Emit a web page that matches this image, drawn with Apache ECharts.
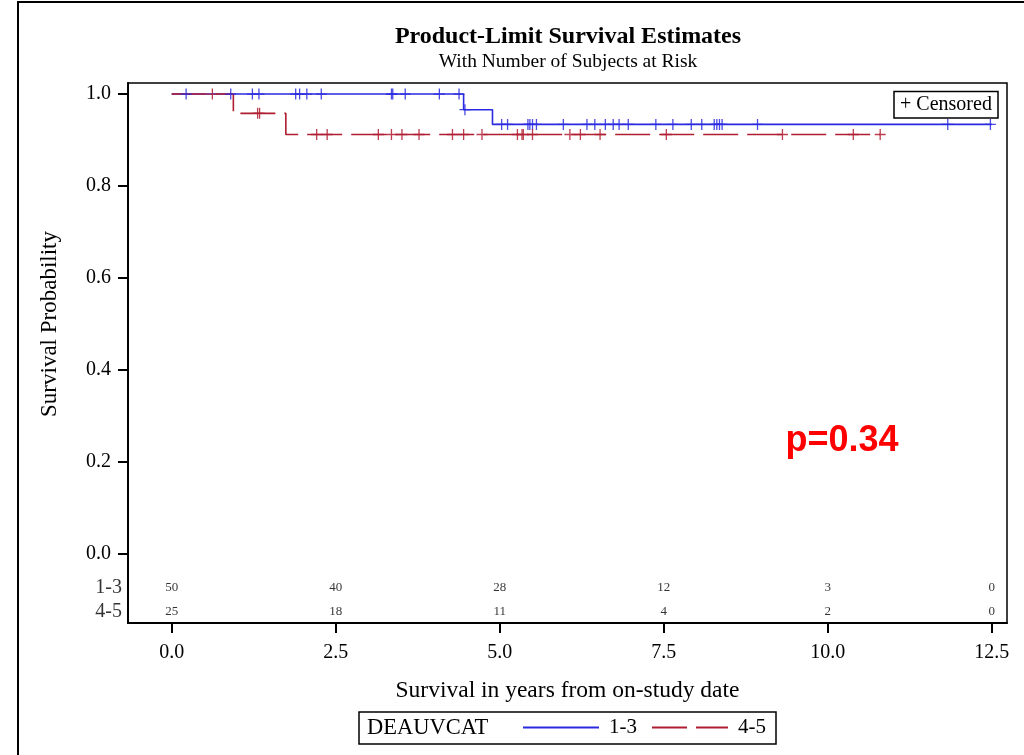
<!DOCTYPE html>
<html>
<head>
<meta charset="utf-8">
<script src="https://cdn.jsdelivr.net/npm/echarts@6/dist/echarts.min.js"></script>
<style>html,body{margin:0;padding:0;background:#fff}#c{width:1024px;height:755px}</style>
</head>
<body>
<div id="c"></div>
<script>
// ---- data ----
const groups = ['1-3', '4-5'];
const timeTicks = [0, 2.5, 5, 7.5, 10, 12.5];
const probTicks = [0, 0.2, 0.4, 0.6, 0.8, 1.0];
// step points (time, survival) for each group
const times13 = [0, 4.45, 4.89, 12.5];
const surv13 = [1, 0.966, 0.934, 0.934];
const times45 = [0, 0.94, 1.74, 10.80];
const surv45 = [1, 0.958, 0.912, 0.912];
// censored times
const censor13 = [0.22, 0.90, 1.23, 1.33, 1.89, 1.95, 2.06, 2.28, 3.35, 3.37, 3.56, 4.08, 4.38, 4.47,
  5.03, 5.12, 5.43, 5.46, 5.50, 5.56, 5.97, 6.33, 6.45, 6.61, 6.73, 6.82, 6.96, 7.38, 7.64, 7.92,
  8.08, 8.27, 8.31, 8.35, 8.39, 8.93, 11.83, 12.48];
const censor45 = [0.62, 1.31, 1.34, 2.21, 2.37, 3.15, 3.35, 3.51, 3.77, 4.28, 4.45, 4.73, 5.27, 5.34,
  5.36, 5.50, 6.07, 6.23, 6.53, 7.54, 9.31, 10.39, 10.80];
// number at risk
const atRisk13 = [50, 40, 28, 12, 3, 0];
const atRisk45 = [25, 18, 11, 4, 2, 0];
const pValueText = 'p=0.34';

// ---- helpers ----
function survAt(times, surv, t) {
  let v = surv[0];
  for (let i = 0; i < times.length; i++) if (times[i] <= t) v = surv[i];
  return v;
}
const BLUE = '#2a2ae0';
const RED = '#b01c30';
const SERIF = 'Liberation Serif';
const X_MIN = -0.666, X_MAX = 12.733;
const Y_MIN = -0.15, Y_MAX = 1.024;
const ROW_Y = [-0.073, -0.125];
const plusPath = 'path://M5,0L5,10M0,5L10,5';

const stepData13 = times13.map((t, i) => [t, surv13[i]]);
const stepData45 = times45.map((t, i) => [t, surv45[i]]);
const cens13 = censor13.map(t => [t, survAt(times13, surv13, t)]);
const cens45 = censor45.map(t => [t, survAt(times45, surv45, t)]);
const risk13 = timeTicks.map((t, i) => [t, ROW_Y[0], String(atRisk13[i])]);
const risk45 = timeTicks.map((t, i) => [t, ROW_Y[1], String(atRisk45[i])]);
const rowLabels = groups.map((g, i) => [X_MIN, ROW_Y[i], g]);

const chart = echarts.init(document.getElementById('c'), null, {renderer: 'canvas'});
chart.setOption({
  animation: false,
  backgroundColor: '#fff',
  textStyle: {fontFamily: SERIF, color: '#000'},
  grid: {left: 128, right: 17, top: 83, bottom: 132, show: true, borderColor: '#000', borderWidth: 1.5, containLabel: false},
  xAxis: {
    type: 'value', min: X_MIN, max: X_MAX,
    name: 'Survival in years from on-study date', nameLocation: 'middle', nameGap: 56,
    nameTextStyle: {fontFamily: SERIF, fontSize: 23.5, color: '#000'},
    axisLine: {show: true, onZero: false, lineStyle: {color: '#000', width: 2}},
    axisTick: {show: true, customValues: timeTicks, length: 10, lineStyle: {color: '#000', width: 2}},
    axisLabel: {show: true, customValues: timeTicks, formatter: v => v.toFixed(1), fontFamily: SERIF, fontSize: 20, color: '#000', margin: 20},
    splitLine: {show: false}
  },
  yAxis: {
    type: 'value', min: Y_MIN, max: Y_MAX,
    axisLine: {show: true, onZero: false, lineStyle: {color: '#000', width: 2}},
    axisTick: {show: true, customValues: probTicks, length: 10, lineStyle: {color: '#000', width: 2}},
    axisLabel: {show: true, customValues: probTicks, formatter: v => v.toFixed(1), fontFamily: SERIF, fontSize: 20, color: '#000', margin: 17},
    splitLine: {show: false}
  },
  legend: {
    data: groups, left: 522, top: 717, orient: 'horizontal',
    itemWidth: 76, itemHeight: 14, itemGap: 14, padding: 0,
    itemStyle: {opacity: 0},
    textStyle: {fontFamily: SERIF, fontSize: 21, color: '#000', padding: [0, 0, 0, 5]}
  },
  series: [
    {name: groups[0], type: 'line', step: 'end', symbol: 'none', data: stepData13,
      lineStyle: {color: BLUE, width: 1.6}, itemStyle: {color: BLUE}, z: 2},
    {name: groups[1], type: 'line', step: 'end', symbol: 'none', data: stepData45,
      lineStyle: {color: RED, width: 1.6, type: [35, 9]}, itemStyle: {color: RED}, z: 3},
    {name: 'c13', type: 'scatter', data: cens13, symbol: plusPath, symbolSize: 11,
      itemStyle: {color: 'none', borderColor: BLUE, borderWidth: 1.3, opacity: 0.85}, z: 4},
    {name: 'c45', type: 'scatter', data: cens45, symbol: plusPath, symbolSize: 11,
      itemStyle: {color: 'none', borderColor: RED, borderWidth: 1.3, opacity: 0.85}, z: 4},
    {name: 'risk13', type: 'scatter', data: risk13, symbolSize: 0, clip: false, silent: true,
      label: {show: true, position: 'inside', formatter: p => p.data[2], fontFamily: SERIF, fontSize: 13, color: '#000'}},
    {name: 'risk45', type: 'scatter', data: risk45, symbolSize: 0, clip: false, silent: true,
      label: {show: true, position: 'inside', formatter: p => p.data[2], fontFamily: SERIF, fontSize: 13, color: '#000'}},
    {name: 'rows', type: 'scatter', data: rowLabels, symbolSize: 0, clip: false, silent: true,
      label: {show: true, position: 'left', distance: 6, formatter: p => p.data[2], fontFamily: SERIF, fontSize: 20, color: '#000'}}
  ],
  graphic: [
    {type: 'rect', shape: {x: 18, y: 2, width: 1200, height: 900}, style: {fill: 'none', stroke: '#000', lineWidth: 2}, silent: true},
    {type: 'text', x: 568, y: 37, style: {text: 'Product-Limit Survival Estimates', font: 'bold 24px "Liberation Serif"', fill: '#000', textAlign: 'center', textVerticalAlign: 'middle'}},
    {type: 'text', x: 568, y: 62, style: {text: 'With Number of Subjects at Risk', font: '19.5px "Liberation Serif"', fill: '#000', textAlign: 'center', textVerticalAlign: 'middle'}},
    {type: 'text', x: 50, y: 324, rotation: Math.PI / 2, style: {text: 'Survival Probability', font: '23px "Liberation Serif"', fill: '#000', textAlign: 'center', textVerticalAlign: 'middle'}},
    {type: 'text', x: 842, y: 441, style: {text: pValueText, font: 'bold 36px "Liberation Sans"', fill: '#ff0000', textAlign: 'center', textVerticalAlign: 'middle'}},
    {type: 'rect', shape: {x: 894, y: 91.5, width: 104, height: 26.5}, style: {fill: '#fff', stroke: '#000', lineWidth: 1.5}, z: 10},
    {type: 'text', x: 946, y: 105, style: {text: '+ Censored', font: '20px "Liberation Serif"', fill: '#000', textAlign: 'center', textVerticalAlign: 'middle'}, z: 11},
    {type: 'rect', shape: {x: 359, y: 712, width: 417, height: 32}, style: {fill: 'none', stroke: '#000', lineWidth: 1.5}},
    {type: 'text', x: 367, y: 728, style: {text: 'DEAUVCAT', font: '22.5px "Liberation Serif"', fill: '#000', textAlign: 'left', textVerticalAlign: 'middle'}}
  ]
});
</script>
</body>
</html>
